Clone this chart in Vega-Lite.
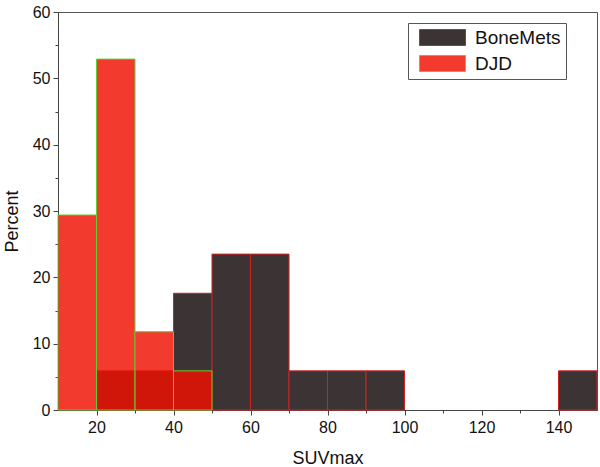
{
  "$schema": "https://vega.github.io/schema/vega-lite/v6.json",
  "width": 539,
  "height": 398,
  "autosize": {"type": "none"},
  "padding": {"left": 58, "top": 12, "right": 3, "bottom": 57},
  "background": "white",
  "config": {
    "font": "Liberation Sans",
    "view": {"stroke": "#555555", "strokeWidth": 1}
  },
  "data": {
    "values": [
      {"group": "BoneMets", "start": 20, "end": 30, "percent": 5.9},
      {"group": "BoneMets", "start": 30, "end": 40, "percent": 5.9},
      {"group": "BoneMets", "start": 40, "end": 50, "percent": 17.6},
      {"group": "BoneMets", "start": 50, "end": 60, "percent": 23.5},
      {"group": "BoneMets", "start": 60, "end": 70, "percent": 23.5},
      {"group": "BoneMets", "start": 70, "end": 80, "percent": 5.9},
      {"group": "BoneMets", "start": 80, "end": 90, "percent": 5.9},
      {"group": "BoneMets", "start": 90, "end": 100, "percent": 5.9},
      {"group": "BoneMets", "start": 140, "end": 150, "percent": 5.9},
      {"group": "DJD", "start": 10, "end": 20, "percent": 29.4},
      {"group": "DJD", "start": 20, "end": 30, "percent": 52.9},
      {"group": "DJD", "start": 30, "end": 40, "percent": 11.8},
      {"group": "DJD", "start": 40, "end": 50, "percent": 5.9}
    ]
  },
  "layer": [
    {
      "mark": {"type": "bar", "strokeWidth": 1},
      "encoding": {
        "x": {
          "field": "start", "type": "quantitative",
          "scale": {"domain": [10, 150], "nice": false, "zero": false},
          "axis": {
            "orient": "bottom",
            "title": "SUVmax", "values": [20, 40, 60, 80, 100, 120, 140],
            "grid": false, "domainColor": "#444", "tickColor": "#444",
            "labelFontSize": 16, "labelColor": "#111", "titleFontSize": 18,
            "titleFontWeight": "normal", "titleColor": "#111", "tickSize": 5,
            "labelPadding": 4, "titleBaseline": "alphabetic", "titleY": 53
          }
        },
        "x2": {"field": "end"},
        "y": {
          "field": "percent", "type": "quantitative", "stack": null,
          "scale": {"domain": [0, 60], "nice": false},
          "axis": {
            "orient": "left",
            "title": "Percent", "values": [0, 10, 20, 30, 40, 50, 60],
            "grid": false, "domainColor": "#444", "tickColor": "#444",
            "labelFontSize": 16, "labelColor": "#111", "titleFontSize": 18,
            "titleFontWeight": "normal", "titleColor": "#111", "tickSize": 5,
            "labelPadding": 3, "titleBaseline": "alphabetic", "titleX": -41, "titleY": 209
          }
        },
        "y2": {"datum": 0},
        "fill": {
          "field": "group", "type": "nominal",
          "scale": {"domain": ["BoneMets", "DJD"], "range": ["#3c3434", "#ef1000"]},
          "legend": {
            "title": null, "orient": "none", "legendX": 350, "legendY": 11,
            "fillColor": "white", "strokeColor": "#555", "padding": 5,
            "labelFontSize": 19, "labelColor": "#111",
            "labelExpr": "datum.label + '  '",
            "symbolType": "M-0.375,-1L5.375,-1L5.375,1L-0.375,1Z",
            "symbolSize": 256, "symbolStrokeWidth": 1, "symbolOpacity": 1,
            "rowPadding": 5, "labelOffset": 43, "labelLimit": 250,
            "encode": {"symbols": {"update": {"fillOpacity": [{"test": "datum.value === 'DJD'", "value": 0.82}, {"value": 1}]}}}
          }
        },
        "stroke": {
          "field": "group", "type": "nominal",
          "scale": {"domain": ["BoneMets", "DJD"], "range": ["#d02020", "#66cc33"]},
          "legend": {
            "title": null, "orient": "none", "legendX": 350, "legendY": 11,
            "fillColor": "white", "strokeColor": "#555", "padding": 5,
            "labelFontSize": 19, "labelColor": "#111",
            "labelExpr": "datum.label + '  '",
            "symbolType": "M-0.375,-1L5.375,-1L5.375,1L-0.375,1Z",
            "symbolSize": 256, "symbolStrokeWidth": 1, "symbolOpacity": 1,
            "rowPadding": 5, "labelOffset": 43, "labelLimit": 250,
            "encode": {"symbols": {"update": {"fillOpacity": [{"test": "datum.value === 'DJD'", "value": 0.82}, {"value": 1}]}}}
          }
        },
        "fillOpacity": {
          "field": "group", "type": "nominal",
          "scale": {"domain": ["BoneMets", "DJD"], "range": [1, 0.82]},
          "legend": null
        }
      }
    },
    {
      "mark": {"type": "bar", "opacity": 0},
      "encoding": {
        "x": {
          "field": "start", "type": "quantitative",
          "axis": {
            "orient": "bottom", "title": null, "labels": false, "domain": false,
            "values": [30, 50, 70, 90, 110, 130], "grid": false,
            "tickColor": "#444", "tickSize": 3
          }
        },
        "x2": {"field": "end"},
        "y": {
          "field": "percent", "type": "quantitative", "stack": null,
          "axis": {
            "orient": "left", "title": null, "labels": false, "domain": false,
            "values": [5, 15, 25, 35, 45, 55], "grid": false,
            "tickColor": "#444", "tickSize": 3
          }
        },
        "y2": {"datum": 0}
      }
    }
  ],
  "resolve": {"axis": {"x": "independent", "y": "independent"}}
}
